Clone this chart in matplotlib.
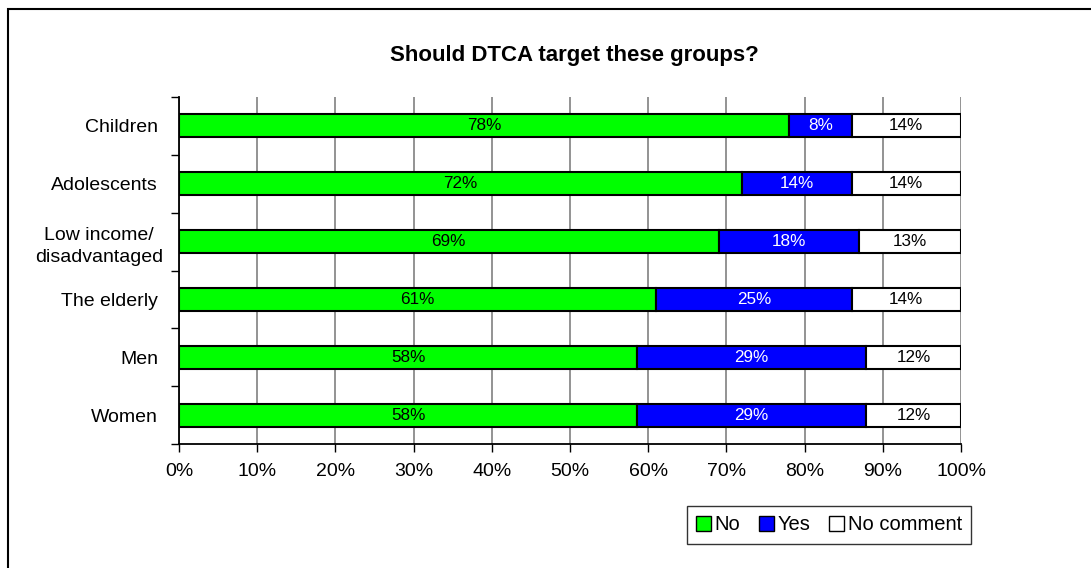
import numpy as np
import matplotlib.pyplot as plt
import matplotlib.transforms as mtransforms
from matplotlib.patches import Rectangle

plt.rcParams['font.family'] = ['Liberation Sans', 'DejaVu Sans']

# survey answers, top row first
groups = ['Children', 'Adolescents', 'Low income/\ndisadvantaged',
          'The elderly', 'Men', 'Women']
no_vals = [78, 72, 69, 61, 58, 58]
yes_vals = [8, 14, 18, 25, 29, 29]
nocomment_vals = [14, 14, 13, 14, 12, 12]

series = [
    ('No', no_vals, '#00ff00', 'black'),
    ('Yes', yes_vals, '#0000ff', 'white'),
    ('No comment', nocomment_vals, 'white', 'black'),
]

# 100% stacked: each row is scaled to its own total
totals = np.array(no_vals) + np.array(yes_vals) + np.array(nocomment_vals)

fig = plt.figure(figsize=(10.91, 5.68), dpi=100)
ax = fig.add_axes([179 / 1091, 1 - 444 / 568, 782 / 1091, 347 / 568])

# chart-area frame (only left and top edges are visible)
fig.add_artist(Rectangle((8 / 1091, -0.1), 1.2, 1 - 9 / 568 + 0.1,
                         transform=fig.transFigure, fill=False,
                         edgecolor='black', linewidth=1.5))

n = len(groups)
ypos = np.arange(n)[::-1]
left = np.zeros(n)
for name, vals, color, txtcolor in series:
    share = np.array(vals) / totals * 100
    ax.barh(ypos, share, left=left, height=0.4, color=color,
            edgecolor='black', linewidth=1.5, label=name, zorder=3)
    for y, l, s, v in zip(ypos, left, share, vals):
        ax.text(l + s / 2, y, f'{v}%', ha='center', va='center',
                color=txtcolor, fontsize=12.3, zorder=4)
    left += share

ax.set_xlim(0, 100)
ax.set_ylim(-0.5, n - 0.5)
ax.set_xticks(np.arange(0, 101, 10))
ax.set_xticklabels([f'{t}%' for t in range(0, 101, 10)], fontsize=14)
ax.set_yticks(ypos)
ax.set_yticklabels(groups, fontsize=14, ha='right', linespacing=1.45)
ax.set_yticks(np.arange(-0.5, n, 1), minor=True)
ax.tick_params(axis='y', which='major', length=0, pad=15)
ax.tick_params(axis='y', which='minor', length=6, width=1, direction='out')
ax.tick_params(axis='x', length=6, width=1, direction='out', pad=8)
# two-line label: centred lines, block sits a little further right
nudge = mtransforms.ScaledTranslation(5 / 100, 0, fig.dpi_scale_trans)
for lbl in ax.get_yticklabels():
    if '\n' in lbl.get_text():
        lbl.set_multialignment('center')
        lbl.set_transform(lbl.get_transform() + nudge)

ax.grid(axis='x', color='#808080', linewidth=1.2, zorder=0)
ax.set_axisbelow(True)
for side in ['top', 'right']:
    ax.spines[side].set_visible(False)
for side in ['left', 'bottom']:
    ax.spines[side].set_linewidth(1.3)

fig.text(574 / 1091, 1 - 56 / 568, 'Should DTCA target these groups?',
         ha='center', va='center', fontsize=16, fontweight='bold')

leg = fig.legend(loc='center', bbox_to_anchor=(829 / 1091, 1 - 525 / 568),
                 ncol=3, frameon=True, fancybox=False, fontsize=14.5,
                 handlelength=0.75, handleheight=0.75, handletextpad=0.2,
                 columnspacing=0.9, borderpad=0.45)
leg.get_frame().set_edgecolor('black')
leg.get_frame().set_linewidth(1.0)
for h in leg.legend_handles:
    h.set_linewidth(1.0)

fig.savefig('out.png', dpi=100)
